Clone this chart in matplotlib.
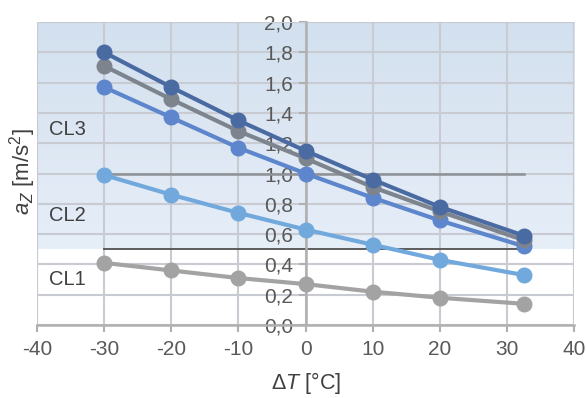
import numpy as np
import matplotlib
matplotlib.use("Agg")
import matplotlib.pyplot as plt
from matplotlib.colors import LinearSegmentedColormap

plt.rcParams['font.family'] = ['Liberation Sans', 'DejaVu Sans']
plt.rcParams['mathtext.fontset'] = 'custom'
plt.rcParams['mathtext.it'] = 'Liberation Sans:italic'
plt.rcParams['mathtext.rm'] = 'Liberation Sans'
plt.rcParams['axes.unicode_minus'] = False

dT = [-30, -20, -10, 0, 10, 20, 32.5]
s1 = [1.80, 1.57, 1.35, 1.15, 0.96, 0.78, 0.59]
s2 = [1.71, 1.49, 1.28, 1.10, 0.91, 0.75, 0.56]
s3 = [1.57, 1.37, 1.17, 1.00, 0.84, 0.69, 0.52]
s4 = [0.99, 0.86, 0.74, 0.63, 0.53, 0.43, 0.33]
s5 = [0.41, 0.36, 0.31, 0.27, 0.22, 0.18, 0.14]
xticks = [-40, -30, -20, -10, 0, 10, 20, 30, 40]
xtick_labels = ['-40', '-30', '-20', '-10', '0', '10', '20', '30', '40']
yticks = [0.0, 0.2, 0.4, 0.6, 0.8, 1.0, 1.2, 1.4, 1.6, 1.8, 2.0]
ytick_labels = ['0,0', '0,2', '0,4', '0,6', '0,8', '1,0', '1,2', '1,4', '1,6', '1,8', '2,0']
class_labels = ['CL3', 'CL2', 'CL1']
class_label_y = [1.29, 0.72, 0.30]
limit_levels = [1.0, 0.5]

fig = plt.figure(figsize=(5.87, 3.98), dpi=100)
ax = fig.add_axes([0.063, 0.1834, 0.915, 0.7613])

# background bands
cmap = LinearSegmentedColormap.from_list('bg', ['#e6eef8', '#dde7f3', '#d2e0ef'])
grad = np.linspace(0, 1, 200).reshape(-1, 1)
ax.imshow(grad, extent=[-40, 40, 0.5, 2.0], origin='lower', aspect='auto',
          cmap=cmap, zorder=0)
ax.set_xlim(-40, 40)
ax.set_ylim(0, 2.0)

ax.set_xticks(xticks)
ax.set_xticklabels(xtick_labels)
ax.set_yticks(yticks)
ax.set_yticklabels(ytick_labels)
ax.grid(True, color='#c8ccd2', linewidth=1.5, zorder=1)
ax.set_axisbelow(True)

for sp in ['top', 'right']:
    ax.spines[sp].set_visible(False)
ax.spines['left'].set_position(('data', 0))
ax.spines['left'].set_color('#b0b0b0')
ax.spines['left'].set_linewidth(1.8)
ax.spines['bottom'].set_color('#b0b0b0')
ax.spines['bottom'].set_linewidth(1.8)
ax.tick_params(axis='both', colors='#b0b0b0', width=1.5, length=5,
               labelcolor='#595959', labelsize=15)
ax.tick_params(axis='y', pad=4)
ax.tick_params(axis='x', pad=6)

# left/right frame lines
ax.axvline(-40, color='#c8ccd2', linewidth=1.5, zorder=1)
ax.axvline(40, color='#c8ccd2', linewidth=1.5, zorder=1)
ax.axhline(2.0, color='#c8ccd2', linewidth=1.5, zorder=1)

# limit lines
ax.plot([dT[0], dT[-1]], [limit_levels[0]] * 2, color='#8d9196', linewidth=1.8, zorder=2)
ax.plot([dT[0], dT[-1]], [limit_levels[1]] * 2, color='#505050', linewidth=1.3, zorder=2)

series = [(s5, '#a3a3a3'), (s4, '#72a9dd'), (s3, '#5d86cc'), (s2, '#7d848d'), (s1, '#4a6aa2')]
for vals, col in series:
    ax.plot(dT, vals, color=col, linewidth=3, marker='o', markersize=10.5, zorder=3,
            clip_on=False)

for lab, yy in zip(class_labels, class_label_y):
    ax.text(-35.4, yy, lab, ha='center', va='center', fontsize=14.5, color='#404040')

fig.text(306 / 587, 1 - 383 / 398, r'$\mathit{\Delta T}$ [°C]', ha='center', va='center',
         fontsize=15.5, color='#404040')
fig.text(23 / 587, 1 - 172 / 398, r'$a_Z$ [m/s$^2$]', rotation=90, ha='center', va='center',
         fontsize=16, color='#404040')

fig.savefig('out.png', dpi=100)
